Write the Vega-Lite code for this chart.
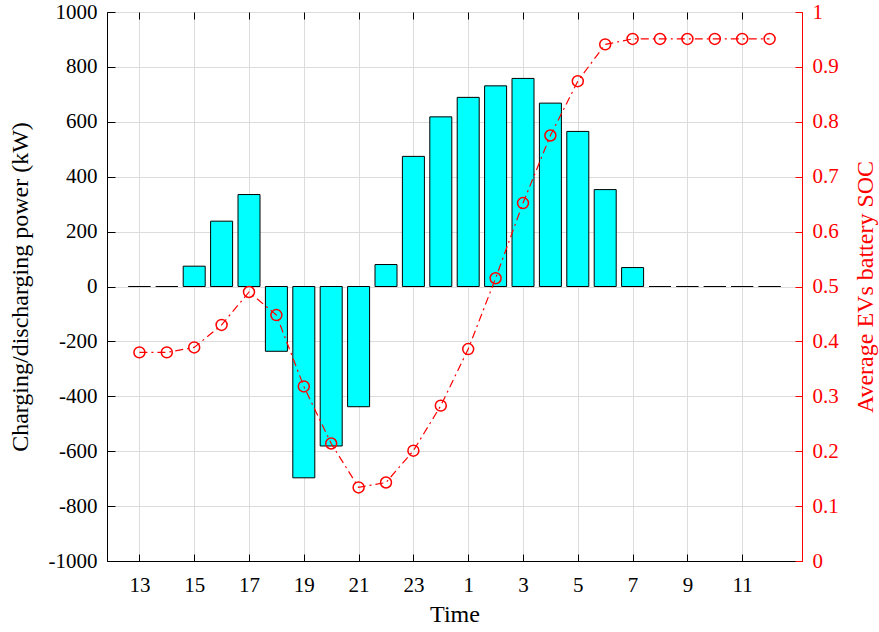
{
  "$schema": "https://vega.github.io/schema/vega-lite/v6.json",
  "width": 695,
  "height": 549,
  "padding": {"left": 107, "top": 12, "right": 77, "bottom": 71},
  "autosize": {"type": "none"},
  "config": {
    "font": "Liberation Serif",
    "view": {"stroke": "black", "strokeWidth": 1},
    "axis": {
      "labelFont": "Liberation Serif",
      "titleFont": "Liberation Serif",
      "labelFontSize": 21,
      "titleFontSize": 24,
      "titleFontWeight": "normal",
      "labelColor": "black",
      "titleColor": "black",
      "domainColor": "black",
      "tickColor": "black",
      "gridColor": "#dcdcdc",
      "gridWidth": 1
    }
  },
  "data": {
    "values": [
      {"t": 13, "p": 0, "soc": 0.38},
      {"t": 14, "p": 0, "soc": 0.38},
      {"t": 15, "p": 74, "soc": 0.389},
      {"t": 16, "p": 238, "soc": 0.43},
      {"t": 17, "p": 335, "soc": 0.49},
      {"t": 18, "p": -236, "soc": 0.448},
      {"t": 19, "p": -697, "soc": 0.318},
      {"t": 20, "p": -581, "soc": 0.214},
      {"t": 21, "p": -438, "soc": 0.134},
      {"t": 22, "p": 80, "soc": 0.143},
      {"t": 23, "p": 474, "soc": 0.201},
      {"t": 24, "p": 618, "soc": 0.283},
      {"t": 25, "p": 689, "soc": 0.386},
      {"t": 26, "p": 731, "soc": 0.515},
      {"t": 27, "p": 758, "soc": 0.652},
      {"t": 28, "p": 668, "soc": 0.775},
      {"t": 29, "p": 565, "soc": 0.874},
      {"t": 30, "p": 353, "soc": 0.941},
      {"t": 31, "p": 69, "soc": 0.951},
      {"t": 32, "p": 0, "soc": 0.951},
      {"t": 33, "p": 0, "soc": 0.951},
      {"t": 34, "p": 0, "soc": 0.951},
      {"t": 35, "p": 0, "soc": 0.951},
      {"t": 36, "p": 0, "soc": 0.951}
    ]
  },
  "layer": [
    {
      "mark": {"type": "bar", "color": "#00FFFF", "stroke": "black", "strokeWidth": 1, "size": 22},
      "encoding": {
        "x": {
          "field": "t",
          "type": "quantitative",
          "scale": {"domain": [12, 37], "nice": false, "zero": false},
          "axis": {
            "orient": "bottom",
            "title": "Time",
            "values": [13, 15, 17, 19, 21, 23, 25, 27, 29, 31, 33, 35],
            "labelExpr": "datum.value > 24 ? datum.value - 24 : datum.value",
            "tickSize": -7,
            "labelPadding": 20,
            "titlePadding": 7,
            "grid": true
          }
        },
        "y": {
          "field": "p",
          "type": "quantitative",
          "scale": {"domain": [-1000, 1000], "nice": false},
          "axis": {
            "title": "Charging/discharging power (kW)",
            "values": [-1000, -800, -600, -400, -200, 0, 200, 400, 600, 800, 1000],
            "labelExpr": "toString(datum.value)",
            "tickSize": -8,
            "labelPadding": 18,
            "titlePadding": 16,
            "grid": true
          }
        }
      }
    },
    {
      "layer": [
        {
          "mark": {"type": "line", "color": "red", "strokeWidth": 1.2, "strokeDash": [8, 4, 2, 4]},
          "encoding": {
            "x": {
              "field": "t",
              "type": "quantitative",
              "axis": {
                "orient": "top",
                "title": null,
                "labels": false,
                "values": [13, 15, 17, 19, 21, 23, 25, 27, 29, 31, 33, 35],
                "tickSize": -7,
                "grid": false,
                "domain": false
              }
            },
            "y": {
              "field": "soc",
              "type": "quantitative",
              "scale": {"domain": [0, 1], "nice": false},
              "axis": {
                "orient": "right",
                "title": "Average EVs battery SOC",
                "titleAngle": 270,
                "titleColor": "red",
                "labelColor": "red",
                "tickColor": "red",
                "domainColor": "red",
                "values": [0, 0.1, 0.2, 0.3, 0.4, 0.5, 0.6, 0.7, 0.8, 0.9, 1],
                "format": ".1~f",
                "tickSize": -7,
                "labelPadding": 17,
                "titlePadding": 39,
                "grid": false
              }
            }
          }
        },
        {
          "mark": {"type": "point", "shape": "circle", "filled": false, "color": "red", "strokeWidth": 1.5, "size": 120, "opacity": 1},
          "encoding": {
            "x": {"field": "t", "type": "quantitative"},
            "y": {"field": "soc", "type": "quantitative"}
          }
        }
      ]
    }
  ],
  "resolve": {"scale": {"y": "independent"}, "axis": {"x": "independent"}}
}
